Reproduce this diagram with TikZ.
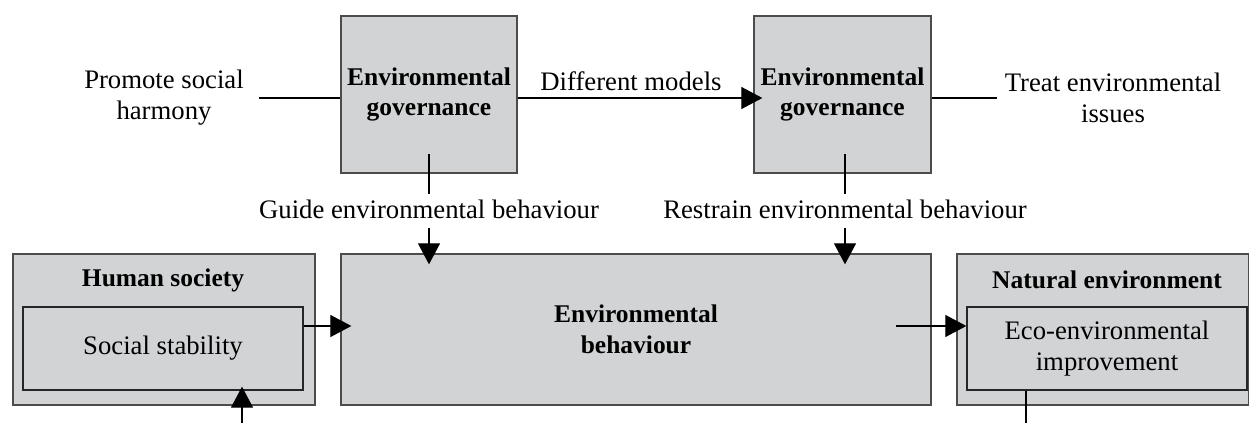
\documentclass[tikz,border=0pt]{standalone}
\usepackage{fontspec}
\setmainfont{Liberation Serif}
\usepackage{tikz}
\usetikzlibrary{arrows.meta}
\usetikzlibrary{positioning}
\usetikzlibrary{calc}
\definecolor{boxgray}{RGB}{209,211,212}

\begin{document}
\begin{tikzpicture}[govbox/.style={draw=black!70, fill=boxgray, line width=0.75pt, inner sep=0pt},
			lbl/.style={inner sep=0pt},
			flow/.style={-{Triangle[length=0.42cm, width=0.44cm]}, line width=0.6pt},
			every node/.style={font=\fontsize{15.2}{17.6}\selectfont},
			bold/.style={font=\fontsize{14.5}{17.6}\selectfont\bfseries},
			every text node part/.style={align=center}]
			\useasboundingbox (0,0) rectangle (25,-8.46);
			
			% top row
			\node[govbox, bold, minimum width=3.52cm, minimum height=3.14cm](gov1) at (8.58, -1.89) {Environmental\\governance};
			\node[govbox, bold, minimum width=3.54cm, minimum height=3.14cm](gov2) at (16.85, -1.89) {Environmental\\governance};
			\node[lbl](promote) at (3.28, -1.96) {Promote social\\harmony};
			\node[lbl](treat) at (22.26, -1.96) {Treat environmental\\issues};
			\node[lbl](models) at (12.62, -1.62) {Different models};
			\node[lbl](guide) at (8.58, -4.18) {Guide environmental behaviour};
			\node[lbl](restrain) at (16.90, -4.18) {Restrain environmental behaviour};
			
			% bottom row
			\node[govbox, minimum width=6.04cm, minimum height=3.02cm](human) at (3.28, -6.59) {};
			\node[lbl, bold](humanlbl) at (3.26, -5.60) {Human society};
			\node[govbox, draw=black!85, minimum width=5.60cm, minimum height=1.66cm](social) at (3.26, -6.97) {Social stability};
			
			\node[govbox, bold, minimum width=11.80cm, minimum height=3.02cm](behav) at (12.72, -6.59) {Environmental\\behaviour};
			
			\node[govbox, minimum width=5.83cm, minimum height=3.02cm](natural) at (22.055, -6.59) {};
			\node[lbl, bold](naturallbl) at (22.14, -5.60) {Natural environment};
			\node[govbox, draw=black!85, minimum width=5.60cm, minimum height=1.66cm](eco) at (22.14, -6.97) {Eco-environmental\\improvement};
			
			\coordinate (stabin) at (4.84, -8.46);
			\coordinate (ecoout) at (20.52, -8.46);
			
			% connectors
			\draw[line width=0.6pt, shorten <=0.3cm] (promote.east) -- (promote.east -| gov1.west);
			\draw[flow, shorten >=-0.18cm] (gov1.east |- promote) -- (gov2.west |- promote);
			\draw[line width=0.6pt, shorten >=0.15cm] (gov2.east |- treat) -- (treat.west);
			
			\draw[line width=0.6pt] ([yshift=0.4cm]gov1.south) -- ([yshift=-0.4cm]gov1.south);
			\draw[flow] ([yshift=-1.08cm]gov1.south) -- ([yshift=-0.22cm]gov1.south |- behav.north);
			\draw[line width=0.6pt] ([xshift=0.05cm, yshift=0.4cm]gov2.south) -- ([xshift=0.05cm, yshift=-0.4cm]gov2.south);
			\draw[flow] ([xshift=0.05cm, yshift=-1.08cm]gov2.south) -- ([xshift=0.05cm, yshift=-0.22cm]gov2.south |- behav.north);
			
			\draw[flow, shorten >=-0.22cm] ([yshift=0.45cm]social.east) -- ([yshift=0.45cm]social.east -| behav.west);
			\draw[flow] ($(behav.east |- eco.west)+(-0.72, 0.45)$) -- ($(eco.west)+(0, 0.45)$);
			\draw[flow, shorten >=-0.08cm] (stabin) -- (stabin |- social.south);
			\draw[line width=0.6pt] (eco.south -| ecoout) -- (ecoout);
			
		\end{tikzpicture}
\end{document}
